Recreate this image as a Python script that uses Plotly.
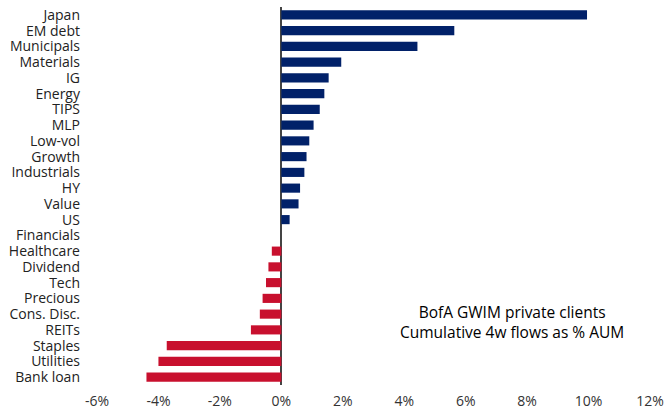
import plotly.graph_objects as go

categories = ["Japan", "EM debt", "Municipals", "Materials", "IG", "Energy", "TIPS", "MLP",
              "Low-vol", "Growth", "Industrials", "HY", "Value", "US", "Financials",
              "Healthcare", "Dividend", "Tech", "Precious", "Cons. Disc.", "REITs",
              "Staples", "Utilities", "Bank loan"]
values = [9.95, 5.63, 4.43, 1.95, 1.54, 1.40, 1.25, 1.05,
          0.91, 0.82, 0.75, 0.61, 0.56, 0.27, 0.0,
          -0.31, -0.42, -0.50, -0.61, -0.70, -0.99,
          -3.73, -4.00, -4.39]
tick_vals = [-6, -4, -2, 0, 2, 4, 6, 8, 10, 12]
tick_text = ["-6%", "-4%", "-2%", "0%", "2%", "4%", "6%", "8%", "10%", "12%"]
note = "BofA GWIM private clients<br>Cumulative 4w flows as % AUM"

NAVY = "#012169"
RED = "#C8102E"
colors = [NAVY if v >= 0 else RED for v in values]

fig = go.Figure(go.Bar(
    x=values, y=categories, orientation="h",
    marker=dict(color=colors, line=dict(width=0)),
    width=0.58,
    hoverinfo="skip",
))

fig.update_layout(
    width=664, height=417,
    margin=dict(l=97, r=14, t=7, b=32),
    paper_bgcolor="white", plot_bgcolor="white",
    font=dict(family="Open Sans", size=14, color="#222222"),
    showlegend=False,
    bargap=0.42,
)
fig.update_xaxes(
    range=[-6, 12], tickmode="array", tickvals=tick_vals, ticktext=tick_text,
    showgrid=False, showline=False, ticks="",
    zeroline=True, zerolinecolor="#444444", zerolinewidth=2,
    tickfont=dict(size=14, color="#333333"),
    ticklabelstandoff=6, automargin=False,
)
fig.update_yaxes(
    categoryorder="array", categoryarray=categories, autorange="reversed",
    tickmode="array", tickvals=categories, ticktext=categories,
    showgrid=False, showline=False, ticks="",
    tickfont=dict(size=14, color="#222222"),
    ticklabelstandoff=16, automargin=False,
)
fig.add_annotation(
    text=note, x=7.5, y=19.5, xref="x", yref="y",
    showarrow=False, align="center",
    font=dict(family="Open Sans", size=15.5, color="#000000"),
)

# remove the browser's default 8px body margin so the figure fills the window exactly
fig.write_html(
    "out.html",
    config={"displayModeBar": False},
    post_script="document.body.style.margin='0';document.documentElement.style.overflow='hidden';",
)
